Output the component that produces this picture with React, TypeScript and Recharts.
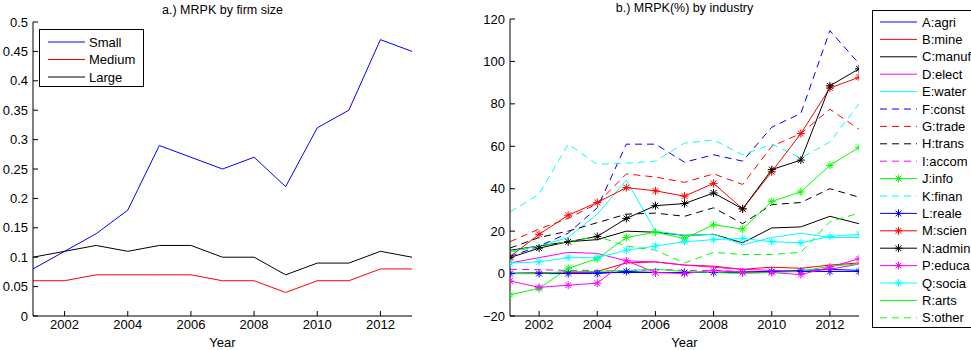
import React from 'react';
import { LineChart, Line, XAxis, YAxis } from 'recharts';

const FONT = '"Liberation Sans", Arial, Helvetica, sans-serif';

// years on the x axis
const years = [2001, 2002, 2003, 2004, 2005, 2006, 2007, 2008, 2009, 2010, 2011, 2012, 2013];
const yearTicks = [2002, 2004, 2006, 2008, 2010, 2012];

// a.) MRPK by firm size
const small = [0.08, 0.11, 0.14, 0.18, 0.29, 0.27, 0.25, 0.27, 0.22, 0.32, 0.35, 0.47, 0.45];
const medium = [0.06, 0.06, 0.07, 0.07, 0.07, 0.07, 0.06, 0.06, 0.04, 0.06, 0.06, 0.08, 0.08];
const large = [0.1, 0.11, 0.12, 0.11, 0.12, 0.12, 0.1, 0.1, 0.07, 0.09, 0.09, 0.11, 0.1];
const sizeTicks = [0, 0.05, 0.1, 0.15, 0.2, 0.25, 0.3, 0.35, 0.4, 0.45, 0.5];

// b.) MRPK(%) by industry
const agri = [0.2, 0.3, 0.3, 0.4, 0.5, 0.5, 0.5, 0.6, 0.8, 1, 1.5, 2, 1.5];
const mine = [0, 0.3, 0.5, 1, 5, 5.5, 4, 3.5, 2, 3, 2.5, 4, 5];
const manuf = [11, 13, 15, 16, 20, 19.5, 18, 18.5, 14.5, 21.5, 22, 27, 23.5];
const elect = [5, 7.5, 10, 9.5, 6, 5.5, 4, 3, 2, 1.5, 1, 2, 4.5];
const water = [10.5, 13, 17, 28, 44, 20, 18, 18.5, 13.5, 17, 19, 17, 17];
const cons = [8, 13, 19, 31, 61, 61, 52.5, 56, 53, 69, 75.5, 114.5, 99];
const trade = [15, 21, 26, 33, 47, 45.5, 43, 47, 42, 60, 66, 77.5, 68];
const trans = [12, 17, 20, 24, 28, 28.5, 27, 31, 23.5, 32.5, 33.5, 40, 36];
const accom = [2, 1.8, 1.5, 1.5, 1, 2, 1.5, 1.5, 1, 1, 1, 1, 1];
const info = [-10, -7, 2.5, 7, 17, 19.5, 16.5, 23, 21, 34, 38.5, 51, 59.5];
const finan = [29, 37.5, 61, 51.5, 52, 53, 61.5, 63, 56, 61, 54.5, 62, 80];
const reale = [0, 0, 0, 0, 1, 0.5, 0.5, 0.5, 0.5, 1, 1, 1, 1];
const scien = [8, 18.5, 27.5, 33.5, 40.5, 39, 36.5, 42.5, 30.5, 48, 66, 87.5, 92.5];
const admin = [7.5, 12, 15, 17.5, 26, 32, 33, 38, 30.5, 49, 53.5, 88.5, 96.5];
const educa = [-3.5, -6.5, -5.5, -4.5, 6, 0.5, 0, 1.5, 0.5, 0.5, -0.5, 3, 7];
const socia = [5, 5.5, 7.5, 7.5, 11, 13, 15, 16, 16.5, 15, 14.5, 17.5, 18.5];
const arts = [0, 0, 1, 1, 1.5, 2, 1, 0.5, 0, 0.5, 1, 3.5, 4.5];
const other = [10, 13, 15, 17.5, 13, 11, 5, 10, 9, 9, 10, 24.5, 28.5];
const industryTicks = [-20, 0, 20, 40, 60, 80, 100, 120];

const sizeData = years.map((y, i) => ({ year: y, small: small[i], medium: medium[i], large: large[i] }));

const industries = [
  { key: 'A', name: 'A:agri', values: agri, color: '#0000ff', dash: false, star: false },
  { key: 'B', name: 'B:mine', values: mine, color: '#ff0000', dash: false, star: false },
  { key: 'C', name: 'C:manuf', values: manuf, color: '#000000', dash: false, star: false },
  { key: 'D', name: 'D:elect', values: elect, color: '#ff00ff', dash: false, star: false },
  { key: 'E', name: 'E:water', values: water, color: '#00ffff', dash: false, star: false },
  { key: 'F', name: 'F:const', values: cons, color: '#0000ff', dash: true, star: false },
  { key: 'G', name: 'G:trade', values: trade, color: '#ff0000', dash: true, star: false },
  { key: 'H', name: 'H:trans', values: trans, color: '#000000', dash: true, star: false },
  { key: 'I', name: 'I:accom', values: accom, color: '#ff00ff', dash: true, star: false },
  { key: 'J', name: 'J:info', values: info, color: '#00ff00', dash: false, star: true },
  { key: 'K', name: 'K:finan', values: finan, color: '#00ffff', dash: true, star: false },
  { key: 'L', name: 'L:reale', values: reale, color: '#0000ff', dash: false, star: true },
  { key: 'M', name: 'M:scien', values: scien, color: '#ff0000', dash: false, star: true },
  { key: 'N', name: 'N:admin', values: admin, color: '#000000', dash: false, star: true },
  { key: 'P', name: 'P:educa', values: educa, color: '#ff00ff', dash: false, star: true },
  { key: 'Q', name: 'Q:socia', values: socia, color: '#00ffff', dash: false, star: true },
  { key: 'R', name: 'R:arts', values: arts, color: '#00ff00', dash: false, star: false },
  { key: 'S', name: 'S:other', values: other, color: '#00ff00', dash: true, star: false },
];

const industryData = years.map((y, i) => {
  const row: any = { year: y };
  industries.forEach((s) => (row[s.key] = s.values[i]));
  return row;
});

const DASH = '7 5';
const tickStyle = { fill: '#000', fontSize: 13, fontFamily: FONT };

const Star = ({ cx, cy, color }: { cx: number; cy: number; color: string }) => {
  const r = 4;
  const d = 2.9;
  return (
    <g stroke={color} strokeWidth={1}>
      <line x1={cx - r} y1={cy} x2={cx + r} y2={cy} />
      <line x1={cx} y1={cy - r} x2={cx} y2={cy + r} />
      <line x1={cx - d} y1={cy - d} x2={cx + d} y2={cy + d} />
      <line x1={cx - d} y1={cy + d} x2={cx + d} y2={cy - d} />
    </g>
  );
};

const fmtSize = (v: number) => String(+v.toFixed(2));
const fmtPct = (v: number) => (v < 0 ? '\u2212' + Math.abs(v) : String(v));

const frameAxes = (ticksX: number[], domainY: number[], ticksY: number[], yWidth: number, fmt: (v: number) => string) => [
  <XAxis
    key="xb"
    xAxisId="b"
    dataKey="year"
    type="number"
    domain={[2001, 2013]}
    ticks={ticksX}
    height={34}
    tick={tickStyle}
    tickSize={-5}
    tickMargin={9}
    stroke="#000"
    allowDataOverflow
    label={{ value: 'Year', position: 'insideBottom', offset: 3, fill: '#000', fontSize: 13, fontFamily: FONT }}
  />,
  <XAxis
    key="xt"
    xAxisId="t"
    dataKey="year"
    type="number"
    orientation="top"
    domain={[2001, 2013]}
    ticks={ticksX}
    height={0}
    tick={false}
    tickSize={-5}
    stroke="#000"
  />,
  <YAxis
    key="yl"
    yAxisId="l"
    type="number"
    domain={domainY}
    ticks={ticksY}
    width={yWidth}
    tick={tickStyle}
    tickSize={-5}
    tickMargin={10}
    tickFormatter={fmt}
    stroke="#000"
    interval={0}
  />,
  <YAxis
    key="yr"
    yAxisId="r"
    orientation="right"
    type="number"
    domain={domainY}
    ticks={ticksY}
    width={0}
    tick={false}
    tickSize={-5}
    stroke="#000"
  />,
];

const SizeChart = () => (
  <div style={{ position: 'absolute', left: 0, top: 0, width: 420, height: 350 }}>
    <div
      style={{
        position: 'absolute',
        left: 33,
        width: 379,
        top: 3,
        textAlign: 'center',
        fontFamily: FONT,
        fontSize: 12.5,
      }}
    >
      a.) MRPK by firm size
    </div>
    <LineChart width={420} height={350} data={sizeData} margin={{ top: 22, right: 8, left: 0, bottom: 0 }}>
      {frameAxes(yearTicks, [0, 0.5], sizeTicks, 33, fmtSize)}
      <Line xAxisId="b" yAxisId="l" dataKey="small" stroke="#0000ff" strokeWidth={1} dot={false} isAnimationActive={false} />
      <Line xAxisId="b" yAxisId="l" dataKey="medium" stroke="#ff0000" strokeWidth={1} dot={false} isAnimationActive={false} />
      <Line xAxisId="b" yAxisId="l" dataKey="large" stroke="#000000" strokeWidth={1} dot={false} isAnimationActive={false} />
    </LineChart>
    <svg style={{ position: 'absolute', left: 39, top: 29 }} width={105} height={58}>
      <rect x={0.5} y={0.5} width={104} height={57} fill="#fff" stroke="#000" strokeWidth={1} />
      {[
        { n: 'Small', c: '#0000ff' },
        { n: 'Medium', c: '#ff0000' },
        { n: 'Large', c: '#000000' },
      ].map((e, i) => (
        <g key={e.n}>
          <line x1={9} x2={46} y1={13 + i * 17.5} y2={13 + i * 17.5} stroke={e.c} strokeWidth={1} />
          <text x={50} y={13 + i * 17.5} dy="0.35em" fontSize={13} fontFamily={FONT} fill="#000">
            {e.n}
          </text>
        </g>
      ))}
    </svg>
  </div>
);

const IndustryChart = () => (
  <div style={{ position: 'absolute', left: 470, top: 0, width: 400, height: 350 }}>
    <div
      style={{
        position: 'absolute',
        left: 40,
        width: 349,
        top: 1,
        textAlign: 'center',
        fontFamily: FONT,
        fontSize: 12.5,
      }}
    >
      b.) MRPK(%) by industry
    </div>
    <LineChart width={400} height={350} data={industryData} margin={{ top: 19, right: 11, left: 0, bottom: 0 }}>
      {frameAxes(yearTicks, [-20, 120], industryTicks, 40, fmtPct)}
      {industries.map((s) => (
        <Line
          key={s.key}
          xAxisId="b"
          yAxisId="l"
          dataKey={s.key}
          stroke={s.color}
          strokeWidth={1}
          strokeDasharray={s.dash ? DASH : undefined}
          dot={
            s.star
              ? (p: any) => <Star key={`${s.key}-${p.index}`} cx={p.cx} cy={p.cy} color={s.color} />
              : false
          }
          isAnimationActive={false}
        />
      ))}
    </LineChart>
  </div>
);

const IndustryLegend = () => (
  <svg style={{ position: 'absolute', left: 872, top: 10 }} width={120} height={318}>
    <rect x={0.5} y={0.5} width={130} height={317} fill="#fff" stroke="#000" strokeWidth={1} />
    {industries.map((s, i) => {
      const y = 12 + i * 17.4;
      return (
        <g key={s.key}>
          <line
            x1={8}
            x2={45}
            y1={y}
            y2={y}
            stroke={s.color}
            strokeWidth={1}
            strokeDasharray={s.dash ? DASH : undefined}
          />
          {s.star && <Star cx={26.5} cy={y} color={s.color} />}
          <text x={50} y={y} dy="0.35em" fontSize={13} fontFamily={FONT} fill="#000">
            {s.name}
          </text>
        </g>
      );
    })}
  </svg>
);

export default function App() {
  return (
    <div
      style={{
        position: 'absolute',
        left: 0,
        top: 0,
        width: 971,
        height: 350,
        overflow: 'hidden',
        background: '#fff',
      }}
    >
      <SizeChart />
      <IndustryChart />
      <IndustryLegend />
    </div>
  );
}
